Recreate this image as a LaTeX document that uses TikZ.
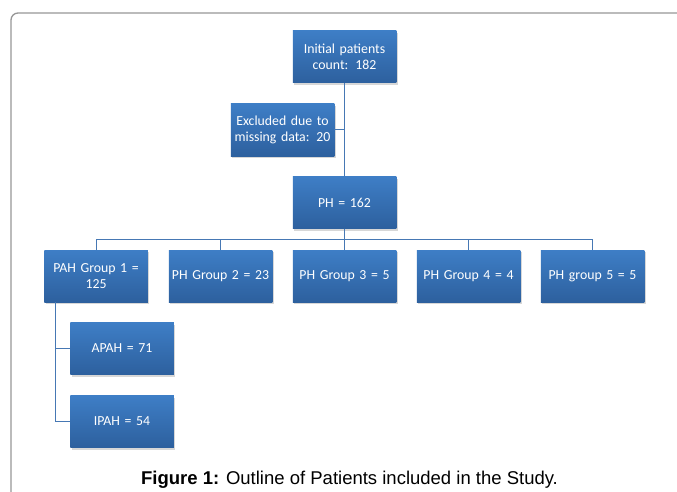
\documentclass[tikz,border=0pt]{standalone}
\usepackage{fontspec}
\setmainfont{Liberation Sans}
\newfontfamily\boxfont{Carlito}
\usetikzlibrary{shadows,calc}
\definecolor{boxtop}{RGB}{62,126,198}
\definecolor{boxbot}{RGB}{45,96,158}
\definecolor{linkc}{RGB}{70,120,180}
\definecolor{framec}{RGB}{150,150,150}
\tikzset{
  orgbox/.style={rectangle, minimum width=103.5pt, minimum height=52pt, inner sep=0pt,
    text width=103pt, align=center, text=white, font=\boxfont\fontsize{13.8}{15.5}\selectfont,
    top color=boxtop, bottom color=boxbot, draw=none,
    drop shadow={shadow xshift=1.5pt, shadow yshift=-2pt, opacity=0.35, fill=black!45}},
  link/.style={draw=linkc, line width=1pt},
}
\begin{document}
\begin{tikzpicture}[x=1pt,y=-1pt]
\useasboundingbox (0,0) rectangle (677,492);
\begin{scope}
\clip (0,0) rectangle (677,492);
\draw[framec, line width=1.3pt, rounded corners=7pt] (690,13) -- (11,13) -- (11,510);
\end{scope}

\node[orgbox] (init) at (344.5,57) {Initial patients\\count: 182};
\node[orgbox] (excl) at (282.5,130) {Excluded due to\\missing data: 20};
\node[orgbox] (ph) at (344.5,202.5) {PH = 162};
\node[orgbox] (g1) at (96,276) {PAH Group 1 =\\125};
\node[orgbox] (g2) at (220.5,276) {PH Group 2 = 23};
\node[orgbox] (g3) at (344.5,276) {PH Group 3 = 5};
\node[orgbox] (g4) at (468.5,276) {PH Group 4 = 4};
\node[orgbox] (g5) at (592.5,276) {PH group 5 = 5};
\node[orgbox] (apah) at (122,348.5) {APAH = 71};
\node[orgbox] (ipah) at (122,421.5) {IPAH = 54};

\coordinate (bus) at (344.5,239);
\coordinate (pl) at (55,302);

\draw[link] (init.south) -- (ph.north);
\draw[link] (excl.east) -- (excl.east -| init.south);
\draw[link] (ph.south) -- (bus);
\draw[link] (bus -| g1.north) -- (bus -| g5.north);
\foreach \n in {g1,g2,g3,g4,g5} {\draw[link] (\n.north) -- (\n.north |- bus);}
\draw[link] (pl) |- (apah.west);
\draw[link] (pl) |- (ipah.west);

\node[font=\fontsize{18.5}{20}\selectfont, anchor=base] (cap) at (349.5,484) {\textbf{Figure 1:} Outline of Patients included in the Study.};
\end{tikzpicture}
\end{document}
